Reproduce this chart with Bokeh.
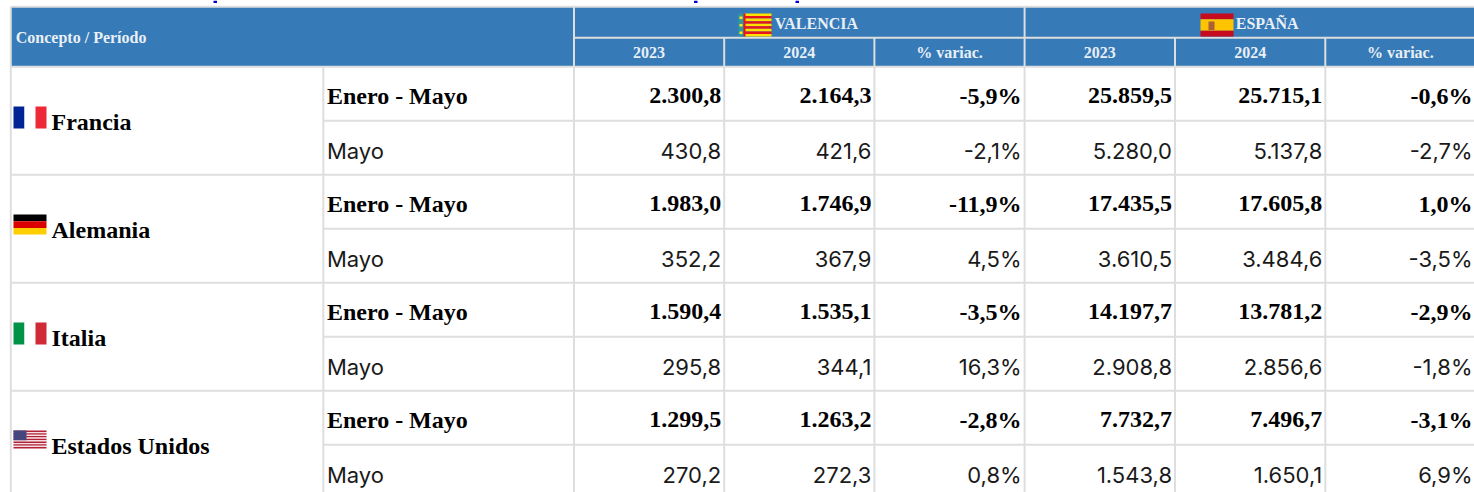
from bokeh.plotting import figure
from bokeh.models import Range1d
from bokeh.core.properties import value
from bokeh.embed import file_html
from bokeh.resources import INLINE

# ---- content ----
COUNTRIES = ["Francia", "Alemania", "Italia", "Estados Unidos"]
PERIODS = ["Enero - Mayo", "Mayo"]
GROUPS = ["VALENCIA", "ESPAÑA"]
SUBHEAD = ["2023", "2024", "% variac.", "2023", "2024", "% variac."]
CORNER = "Concepto / Período"

FRANCIA = [
    ["2.300,8", "2.164,3", "-5,9%", "25.859,5", "25.715,1", "-0,6%"],
    ["430,8", "421,6", "-2,1%", "5.280,0", "5.137,8", "-2,7%"],
]
ALEMANIA = [
    ["1.983,0", "1.746,9", "-11,9%", "17.435,5", "17.605,8", "1,0%"],
    ["352,2", "367,9", "4,5%", "3.610,5", "3.484,6", "-3,5%"],
]
ITALIA = [
    ["1.590,4", "1.535,1", "-3,5%", "14.197,7", "13.781,2", "-2,9%"],
    ["295,8", "344,1", "16,3%", "2.908,8", "2.856,6", "-1,8%"],
]
USA = [
    ["1.299,5", "1.263,2", "-2,8%", "7.732,7", "7.496,7", "-3,1%"],
    ["270,2", "272,3", "0,8%", "1.543,8", "1.650,1", "6,9%"],
]
TABLE = [FRANCIA, ALEMANIA, ITALIA, USA]

# ---- layout (page pixels) ----
W, H = 1474, 492
LEFT, RIGHT = 10.3, 1480
TOP, HEAD_MID, HEAD_BOT = 6.2, 37.2, 66.3
ROW_H = 54
COL_LINES = [322.8, 573.5, 723.7, 873.9, 1024.1, 1174.5, 1324.8]
HEADING_DESCENDERS = [213, 693.5, 795]
BLUE, GRID = "#367ab7", "#dedede"
HEAD_TXT = "#e9eff6"
SERIF = value("Liberation Serif")
SANS = value("Inter")

p = figure(width=W, height=H, output_backend="svg", toolbar_location=None,
           x_range=Range1d(0, W), y_range=Range1d(H, 0), min_border=0,
           x_axis_location=None, y_axis_location=None, outline_line_color=None)
p.grid.visible = False
p.background_fill_color = "white"
p.border_fill_color = "white"


def box(x0, x1, y0, y1, color):
    p.quad(left=[x0], right=[x1], top=[y0], bottom=[y1], fill_color=color, line_color=None)


# clipped heading above the table
for x in HEADING_DESCENDERS:
    box(x, x + 3.5, 0, 2.4, "#0000d0")

# header band
box(LEFT, RIGHT, TOP, HEAD_BOT, BLUE)

# grid lines
row_lines = [HEAD_BOT + ROW_H * i for i in range(8)]
hx0, hx1, hy0, hy1 = [], [], [], []
for y in [TOP, HEAD_BOT]:
    hx0.append(LEFT); hx1.append(RIGHT); hy0.append(y); hy1.append(y)
hx0.append(COL_LINES[1]); hx1.append(RIGHT); hy0.append(HEAD_MID); hy1.append(HEAD_MID)
for i in range(1, 8):
    x0 = LEFT if i % 2 == 0 else COL_LINES[0]
    hx0.append(x0); hx1.append(RIGHT); hy0.append(row_lines[i]); hy1.append(row_lines[i])
p.segment(hx0, hy0, hx1, hy1, line_color=GRID, line_width=2)

vx, vy0, vy1 = [], [], []
vx.append(LEFT); vy0.append(TOP); vy1.append(H)
vx.append(COL_LINES[0]); vy0.append(HEAD_BOT); vy1.append(H)
for x in (COL_LINES[1], COL_LINES[4]):
    vx.append(x); vy0.append(TOP); vy1.append(H)
for x in (COL_LINES[2], COL_LINES[3], COL_LINES[5], COL_LINES[6]):
    vx.append(x); vy0.append(HEAD_MID); vy1.append(H)
p.segment(vx, vy0, vx, vy1, line_color=GRID, line_width=2)

# header text
p.text([15.3], [37], text=[CORNER], text_font=SERIF, text_font_style="bold",
       text_font_size="16px", text_color=HEAD_TXT, text_baseline="alphabetic")
group_x = [774.3, 1235.3]
p.text(group_x, [22.5, 22.5], text=GROUPS, text_font=SERIF, text_font_style="bold",
       text_font_size="16px", text_color=HEAD_TXT, text_baseline="alphabetic")
edges = COL_LINES[1:] + [1475]
sub_x = [(edges[i] + edges[i + 1]) / 2 for i in range(6)]
p.text(sub_x, [52] * 6, text=SUBHEAD, text_font=SERIF, text_font_style="bold",
       text_font_size="16px", text_color=HEAD_TXT, text_align="center", text_baseline="alphabetic")

# body text
for c, rows in enumerate(TABLE):
    top = row_lines[2 * c]
    p.text([51], [top + 55.2], text=[COUNTRIES[c]], text_font=SERIF, text_font_style="bold",
           text_font_size="24px", text_color="black", text_baseline="alphabetic")
    for r, row in enumerate(rows):
        base = top + ROW_H * r + (29 if r == 0 else 30.5)
        bold = r == 0
        font = SERIF if bold else SANS
        style = "bold" if bold else "normal"
        size = "24px" if bold else "22px"
        color = "black" if bold else "#1a1a1a"
        p.text([326.4], [base], text=[PERIODS[r]], text_font=font, text_font_style=style,
               text_font_size=size, text_color=color, text_baseline="alphabetic")
        xs = [edges[i + 1] - 3 for i in range(6)]
        xs[5] = 1472
        p.text(xs, [base] * 6, text=row, text_font=font, text_font_style=style,
               text_font_size=size, text_color=color, text_align="right", text_baseline="alphabetic")


# flags
def h_stripes(x, y, w, heights, colors):
    yy = y
    for hh, col in zip(heights, colors):
        box(x, x + w, yy, yy + hh, col)
        yy += hh


def v_stripes(x, y, h, widths, colors):
    xx = x
    for ww, col in zip(widths, colors):
        box(xx, xx + ww, y, y + h, col)
        xx += ww


FX, FW = 13, 33
v_stripes(FX, 106, 22, [11, 11, 11], ["#002395", "#ffffff", "#ed2939"])
h_stripes(FX, 214, FW, [6.7, 6.7, 6.6], ["#000000", "#dd0000", "#ffce00"])
v_stripes(FX, 322, 22, [11, 11, 11], ["#009246", "#ffffff", "#ce2b37"])
# USA
h_stripes(FX, 430, FW, [18 / 13] * 13,
          ["#b22234", "#f4dfe2"] * 6 + ["#b22234"])
box(FX, FX + 13, 430, 439.7, "#46467f")
# Valencia
h_stripes(744, 13, 27, [23 / 9] * 9,
          ["#ffe000", "#e8141c"] * 4 + ["#ffe000"])
box(738, 743, 13, 36, "#2f9a9a")
for y in (16, 23.5, 31):
    box(739, 742, y, y + 2.5, "#f6e826")
box(743, 745, 13, 36, "#e8141c")
# Spain
h_stripes(1200, 13, 33, [5.7, 11.6, 5.7], ["#c60b1e", "#ffc400", "#c60b1e"])
box(1208, 1214, 21, 29.5, "#ad5f3a")

open("out.html", "w").write(file_html(p, INLINE))
